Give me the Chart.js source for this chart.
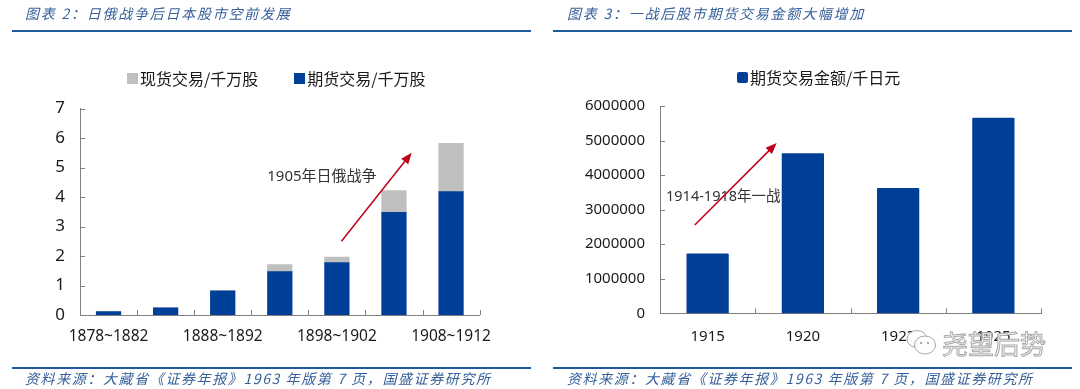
<!DOCTYPE html>
<html>
<head>
<meta charset="utf-8">
<script src="https://cdn.jsdelivr.net/npm/chart.js@4"></script>
<style>
    html, body { margin: 0; padding: 0; background: #fff; }
    #page { position: relative; width: 1080px; height: 389px; overflow: hidden; font-family: "Noto Sans CJK SC", sans-serif; }
    canvas { position: absolute; top: 0; }
    .title, .source { position: absolute; color: #37609b; font-style: italic; font-size: 14px; line-height: 18px; white-space: nowrap; letter-spacing: 1.75px; }
    .title { top: 4px; }
    .source { top: 369px; letter-spacing: 1.6px; }
    .rule { position: absolute; height: 2px; background: #1f5a9e; width: 519px; }
    .legend { position: absolute; display: flex; align-items: center; font-size: 16px; line-height: 20px; color: #1a1a1a; white-space: nowrap; }
    .legend i { display: inline-block; width: 11px; height: 11px; margin-right: 2px; }
    .legend span { display: flex; align-items: center; }
    #watermark { position: absolute; left: 905px; top: 325px; display: flex; align-items: center; }
    #watermark b { font-weight: 400; font-size: 26px; line-height: 36px; color: #fff; -webkit-text-stroke: 1px #a8a8a8; margin-left: 5px; }
</style>
</head>
<body>
<div id="page">
    <canvas id="chart-left" width="540" height="389" style="left:0"></canvas>
    <canvas id="chart-right" width="540" height="389" style="left:540px"></canvas>

    <div class="title" style="left:25px">图表 2&#xFF1A;日俄战争后日本股市空前发展</div>
    <div class="rule" style="left:12px;top:30px"></div>
    <div class="title" style="left:567px">图表 3&#xFF1A;一战后股市期货交易金额大幅增加</div>
    <div class="rule" style="left:553px;top:30px"></div>

    <div class="legend" id="legend-left" style="left:127px;top:68px"></div>
    <div class="legend" id="legend-right" style="left:737px;top:67px"></div>

    <div class="rule" style="left:12px;top:367px"></div>
    <div class="source" style="left:25px">资料来源&#xFF1A;大藏省《证券年报》1963 年版第 7 页&#xFF0C;国盛证券研究所</div>
    <div class="rule" style="left:553px;top:367px"></div>
    <div class="source" style="left:567px">资料来源&#xFF1A;大藏省《证券年报》1963 年版第 7 页&#xFF0C;国盛证券研究所</div>

    <div id="watermark">
        <svg width="32" height="30" viewBox="0 0 32 30">
            <ellipse cx="12" cy="11" rx="10" ry="8.5" fill="#fff" stroke="#a8a8a8"/>
            <ellipse cx="20" cy="17" rx="10.5" ry="9" fill="#fff" stroke="#a8a8a8"/>
            <circle cx="16" cy="15" r="1.2" fill="#a8a8a8"/>
            <circle cx="23" cy="15" r="1.2" fill="#a8a8a8"/>
        </svg>
        <b>尧望后势</b>
    </div>
</div>

<script>
// Left chart data
const periods = ['1878~1882', '1883~1887', '1888~1892', '1893~1897', '1898~1902', '1903~1907', '1908~1912'];
const futuresVolume = [0.12, 0.24, 0.82, 1.47, 1.78, 3.48, 4.18];
const spotVolume = [0, 0, 0, 0.24, 0.18, 0.74, 1.64];
const futuresVolumeName = '期货交易/千万股';
const spotVolumeName = '现货交易/千万股';

// Right chart data
const years = ['1915', '1920', '1923', '1925'];
const futuresAmount = [1720000, 4620000, 3620000, 5650000];
const futuresAmountName = '期货交易金额/千日元';

const BLUE = '#003f98';
const GRAY = '#bfbfbf';
const AXIS = '#7f7f7f';
const RED = '#c00018';
const TICK_FONT = { family: '"Noto Sans", sans-serif', size: 15 };

function buildLegend(id, items) {
    const html = items.map(item =>
        `<span style="margin-right:${item.gap || 0}px"><i style="background:${item.color};border-radius:${item.radius || 0}px"></i>${item.name}</span>`
    ).join('');
    document.getElementById(id).innerHTML = html;
}

// Short inward tick marks, the arrow and its note, placed through the scales
function overlayPlugin(note) {
    return {
        id: 'overlay',
        beforeDatasetsDraw(chart) {
            const { ctx, scales: { x, y } } = chart;
            ctx.save();
            ctx.fillStyle = '#333';
            ctx.font = note.font + ' "Noto Sans", "Noto Sans CJK SC", sans-serif';
            ctx.textBaseline = 'middle';
            ctx.fillText(note.text, x.getPixelForValue(note.at[0]), y.getPixelForValue(note.at[1]));
            ctx.restore();
        },
        afterDatasetsDraw(chart) {
            const { ctx, scales: { x, y } } = chart;
            ctx.save();
            ctx.strokeStyle = AXIS;
            ctx.lineWidth = 1;
            y.ticks.forEach(t => {
                const py = Math.round(y.getPixelForValue(t.value)) + 0.5;
                ctx.beginPath();
                ctx.moveTo(x.left, py);
                ctx.lineTo(x.left + 5, py);
                ctx.stroke();
            });
            for (let i = 1; i <= x.ticks.length; i++) {
                const px = Math.round(x.getPixelForValue(i - 0.5)) + 0.5;
                ctx.beginPath();
                ctx.moveTo(px, y.bottom);
                ctx.lineTo(px, y.bottom - 5);
                ctx.stroke();
            }

            // arrow
            const x1 = x.getPixelForValue(note.from[0]), y1 = y.getPixelForValue(note.from[1]);
            const x2 = x.getPixelForValue(note.to[0]), y2 = y.getPixelForValue(note.to[1]);
            const angle = Math.atan2(y2 - y1, x2 - x1);
            ctx.strokeStyle = RED;
            ctx.fillStyle = RED;
            ctx.lineWidth = 1.5;
            ctx.beginPath();
            ctx.moveTo(x1, y1);
            ctx.lineTo(x2 - 8 * Math.cos(angle), y2 - 8 * Math.sin(angle));
            ctx.stroke();
            ctx.beginPath();
            ctx.moveTo(x2, y2);
            ctx.lineTo(x2 - 12 * Math.cos(angle - 0.38), y2 - 12 * Math.sin(angle - 0.38));
            ctx.lineTo(x2 - 12 * Math.cos(angle + 0.38), y2 - 12 * Math.sin(angle + 0.38));
            ctx.closePath();
            ctx.fill();
            ctx.restore();
        }
    };
}

function commonOptions(cfg) {
    return {
        responsive: false,
        animation: false,
        layout: { padding: { top: cfg.top, right: cfg.right, left: 0, bottom: 0 } },
        plugins: { legend: { display: false }, tooltip: { enabled: false } },
        scales: {
            x: {
                stacked: true,
                grid: { display: false },
                border: { color: AXIS },
                afterFit: scale => { scale.height = cfg.xHeight; },
                ticks: {
                    autoSkip: false,
                    maxRotation: 0,
                    padding: cfg.xPadding,
                    color: '#1a1a1a',
                    font: { ...TICK_FONT, size: cfg.xSize },
                    callback: cfg.xLabel
                }
            },
            y: {
                stacked: true,
                min: 0,
                max: cfg.max,
                grid: { display: false },
                border: { color: AXIS },
                afterFit: scale => { scale.width = cfg.yWidth; },
                ticks: {
                    stepSize: cfg.step,
                    padding: 7,
                    color: '#1a1a1a',
                    font: { ...TICK_FONT, size: cfg.ySize },
                    callback: value => String(value)
                }
            }
        }
    };
}

buildLegend('legend-left', [
    { name: spotVolumeName, color: GRAY, gap: 36 },
    { name: futuresVolumeName, color: BLUE }
]);
buildLegend('legend-right', [
    { name: futuresAmountName, color: BLUE, radius: 2 }
]);

new Chart(document.getElementById('chart-left'), {
    type: 'bar',
    data: {
        labels: periods,
        datasets: [
            { label: futuresVolumeName, data: futuresVolume, backgroundColor: BLUE, barThickness: 24.6 },
            { label: spotVolumeName, data: spotVolume, backgroundColor: GRAY, barThickness: 24.6 }
        ]
    },
    options: commonOptions({
        top: 108.5, right: 60.4, xHeight: 74, yWidth: 80, max: 7, step: 1, ySize: 17, xSize: 15.5, xPadding: 4,
        xLabel(value, index) { return index % 2 === 0 ? this.getLabelForValue(value) : ''; }
    }),
    plugins: [overlayPlugin({ text: '1905年日俄战争', font: '15px', at: [2.78, 4.68], from: [4.08, 2.5], to: [5.31, 5.5] })]
});

new Chart(document.getElementById('chart-right'), {
    type: 'bar',
    data: {
        labels: years,
        datasets: [
            { label: futuresAmountName, data: futuresAmount, backgroundColor: BLUE, barThickness: 41.6, borderRadius: 1 }
        ]
    },
    options: commonOptions({
        top: 106, right: 39, xHeight: 75.7, yWidth: 120, max: 6000000, step: 1000000, ySize: 15, xSize: 15, xPadding: 6,
        xLabel(value) { return this.getLabelForValue(value); }
    }),
    plugins: [overlayPlugin({ text: '1914-1918年一战', font: '14.5px', at: [-0.437, 3370000], from: [-0.135, 2556000], to: [0.725, 4930000] })]
});
</script>
</body>
</html>
